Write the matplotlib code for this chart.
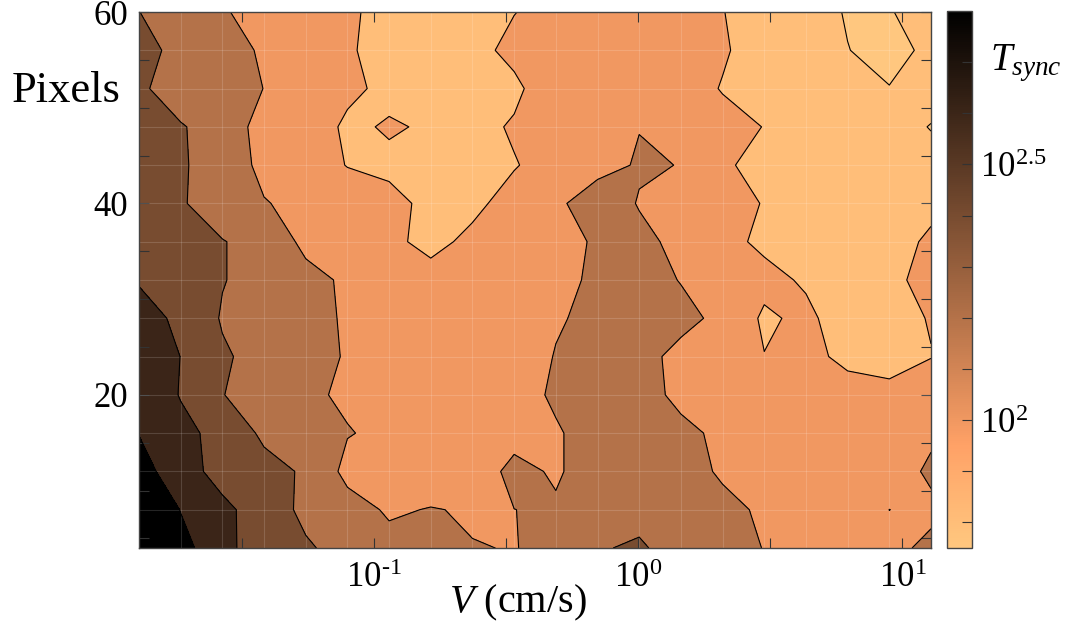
import numpy as np
import matplotlib
matplotlib.use("Agg")
import matplotlib.pyplot as plt
from matplotlib import colors as mcolors
from matplotlib.cm import ScalarMappable
from matplotlib.ticker import FixedLocator, NullLocator

plt.rcParams["font.family"] = "Liberation Serif"
plt.rcParams["mathtext.fontset"] = "custom"
plt.rcParams["mathtext.rm"] = "Liberation Serif"
plt.rcParams["mathtext.it"] = "Liberation Serif:italic"

# grid of the measurement
velocity = [0.01294, 0.01861, 0.02676, 0.03846, 0.0553, 0.07952, 0.1143, 0.1643,
            0.2362, 0.3397, 0.4884, 0.7023, 1.0095, 1.451, 2.086, 3.0, 4.313,
            6.202, 8.917, 12.82]
pixels = [4, 8, 12, 16, 20, 24, 28, 32, 36, 40, 44, 48, 52, 56, 60]

# log10(T_sync), one row per pixel value (bottom to top)
log_tsync = [
    [3.0, 2.85, 2.68, 2.42, 2.42, 2.33, 2.273, 2.24, 2.21, 2.19, 2.3, 2.39, 2.42, 2.32, 2.26, 2.195, 2.12, 2.1, 2.15, 2.25],
    [2.95, 2.795, 2.65, 2.48, 2.36, 2.285, 2.17, 2.213, 2.17, 2.199, 2.22, 2.3, 2.35, 2.32, 2.26, 2.16, 2.1, 2.08, 2.201, 2.15],
    [2.87, 2.68, 2.52, 2.47, 2.37, 2.14, 2.06, 2.03, 2.13, 2.24, 2.18, 2.3, 2.32, 2.28, 2.17, 2.1, 2.06, 2.05, 2.1, 2.24],
    [2.795, 2.65, 2.53, 2.36, 2.28, 2.21, 2.15, 2.1, 2.11, 2.15, 2.18, 2.3, 2.3, 2.25, 2.15, 2.1, 2.07, 2.06, 2.08, 2.16],
    [2.72, 2.59, 2.405, 2.3, 2.23, 2.17, 2.12, 2.1, 2.12, 2.13, 2.23, 2.32, 2.27, 2.15, 2.1, 2.07, 2.06, 2.05, 2.05, 2.1],
    [2.7, 2.598, 2.43, 2.3, 2.24, 2.19, 2.12, 2.08, 2.1, 2.1, 2.21, 2.3, 2.25, 2.15, 2.08, 2.005, 2.03, 1.97, 1.93, 1.995],
    [2.65, 2.57, 2.38, 2.31, 2.25, 2.18, 2.12, 2.06, 2.08, 2.12, 2.18, 2.26, 2.3, 2.25, 2.15, 1.967, 2.054, 1.846, 1.95, 2.01],
    [2.59, 2.5, 2.41, 2.3, 2.25, 2.17, 2.1, 2.04, 2.06, 2.1, 2.16, 2.23, 2.26, 2.193, 2.1, 2.06, 1.97, 1.9, 1.97, 2.05],
    [2.56, 2.5, 2.41, 2.3, 2.16, 2.08, 2.02, 1.97, 2.03, 2.1, 2.15, 2.22, 2.25, 2.14, 2.05, 1.96, 1.9, 1.88, 1.96, 2.02],
    [2.55, 2.42, 2.27, 2.21, 2.14, 2.08, 2.04, 1.96, 1.97, 2.06, 2.17, 2.3, 2.188, 2.1, 2.07, 1.99, 1.9, 1.86, 1.88, 1.97],
    [2.55, 2.42, 2.3, 2.15, 2.06, 1.995, 1.97, 1.9, 1.9, 1.99, 2.08, 2.14, 2.22, 2.195, 2.03, 1.92, 1.86, 1.84, 1.83, 1.84],
    [2.52, 2.41, 2.33, 2.1, 2.07, 1.975, 2.015, 1.98, 1.95, 2.02, 2.1, 2.14, 2.195, 2.12, 2.06, 1.995, 1.88, 1.85, 1.84, 1.795],
    [2.42, 2.33, 2.26, 2.198, 2.12, 2.03, 1.96, 1.88, 1.9, 1.96, 2.15, 2.12, 2.1, 2.07, 1.99, 1.9, 1.85, 1.82, 1.805, 1.85],
    [2.45, 2.35, 2.28, 2.17, 2.1, 2.02, 1.92, 1.88, 1.95, 2.05, 2.08, 2.1, 2.08, 2.05, 2.02, 1.9, 1.84, 1.803, 1.75, 1.84],
    [2.401, 2.35, 2.21, 2.15, 2.1, 2.02, 1.95, 1.92, 1.95, 1.995, 2.08, 2.1, 2.1, 2.08, 2.005, 1.9, 1.85, 1.79, 1.78, 1.98],
]

levels = [1.8, 2.0, 2.2, 2.4, 2.6, 2.8]
clim = (1.75, 2.8)

Z = np.array(log_tsync)
cmap = plt.get_cmap("copper_r")
norm = mcolors.Normalize(*clim)
# MATLAB style: each band takes the colour of its lower level
bounds = [Z.min() - 0.05] + levels + [Z.max() + 0.05]
band_colors = [cmap(norm(max(b, clim[0]))) for b in bounds[:-1]]

fig = plt.figure(figsize=(10.69, 6.28), dpi=100)
W, H = 1069, 628
ax = fig.add_axes([139 / W, 1 - 548 / H, 792 / W, 536 / H])

ax.contourf(velocity, pixels, Z, levels=bounds, colors=band_colors)
ax.vlines(velocity[1:-1], pixels[0], pixels[-1], colors="white", alpha=0.15, lw=0.8)
ax.hlines(pixels[1:-1], velocity[0], velocity[-1], colors="white", alpha=0.15, lw=0.8)
ax.contour(velocity, pixels, Z, levels=levels, colors="black", linewidths=0.8)

ax.set_xscale("log")
ax.set_xlim(velocity[0], velocity[-1])
ax.set_ylim(pixels[0], pixels[-1])

xt = [10 ** -1.5, 0.1, 10 ** -0.5, 1, 10 ** 0.5, 10]
ax.xaxis.set_major_locator(FixedLocator(xt))
ax.xaxis.set_minor_locator(NullLocator())
ax.set_xticklabels(["", r"$\mathregular{10^{\text{-}1}}$", "", r"$\mathregular{10^{0}}$", "",
                    r"$\mathregular{10^{1}}$"])
yt = list(range(5, 61, 5))
ax.yaxis.set_major_locator(FixedLocator(yt))
ax.yaxis.set_minor_locator(NullLocator())
ax.set_yticklabels([str(v) if v % 20 == 0 else "" for v in yt])

ax.tick_params(direction="in", length=7, width=0.8, color="#333333",
               top=True, right=True, labelsize=25)
ax.tick_params(axis="x", pad=10)
ax.tick_params(axis="y", pad=8)
for s in ax.spines.values():
    s.set_color("#444444")
    s.set_linewidth(1.0)

fig.text(12 / W, 1 - 102 / H, "Pixels", fontsize=32, ha="left", va="baseline")
fig.text(518 / W, 1 - 612 / H, r"$V$ (cm/s)", fontsize=29, ha="center", va="baseline")

# colorbar
cax = fig.add_axes([947 / W, 1 - 548 / H, 25 / W, 537 / H])
cb = fig.colorbar(ScalarMappable(norm=norm, cmap=cmap), cax=cax)
cb.set_ticks([2.0, 2.5])
cb.set_ticklabels([r"$\mathregular{10^{2}}$", r"$\mathregular{10^{2.5}}$"])
cax.yaxis.set_minor_locator(FixedLocator([1.8, 1.9, 2.1, 2.2, 2.3, 2.4, 2.6, 2.7]))
cax.tick_params(which="both", direction="in", length=7, width=0.8, color="#333333",
                labelsize=25, pad=6)
cb.outline.set_edgecolor("#444444")
cb.outline.set_linewidth(1.0)
fig.text(990 / W, 1 - 70 / H, r"$T_{sync}$", fontsize=28, ha="left", va="baseline")

fig.savefig("out.png", dpi=100)
